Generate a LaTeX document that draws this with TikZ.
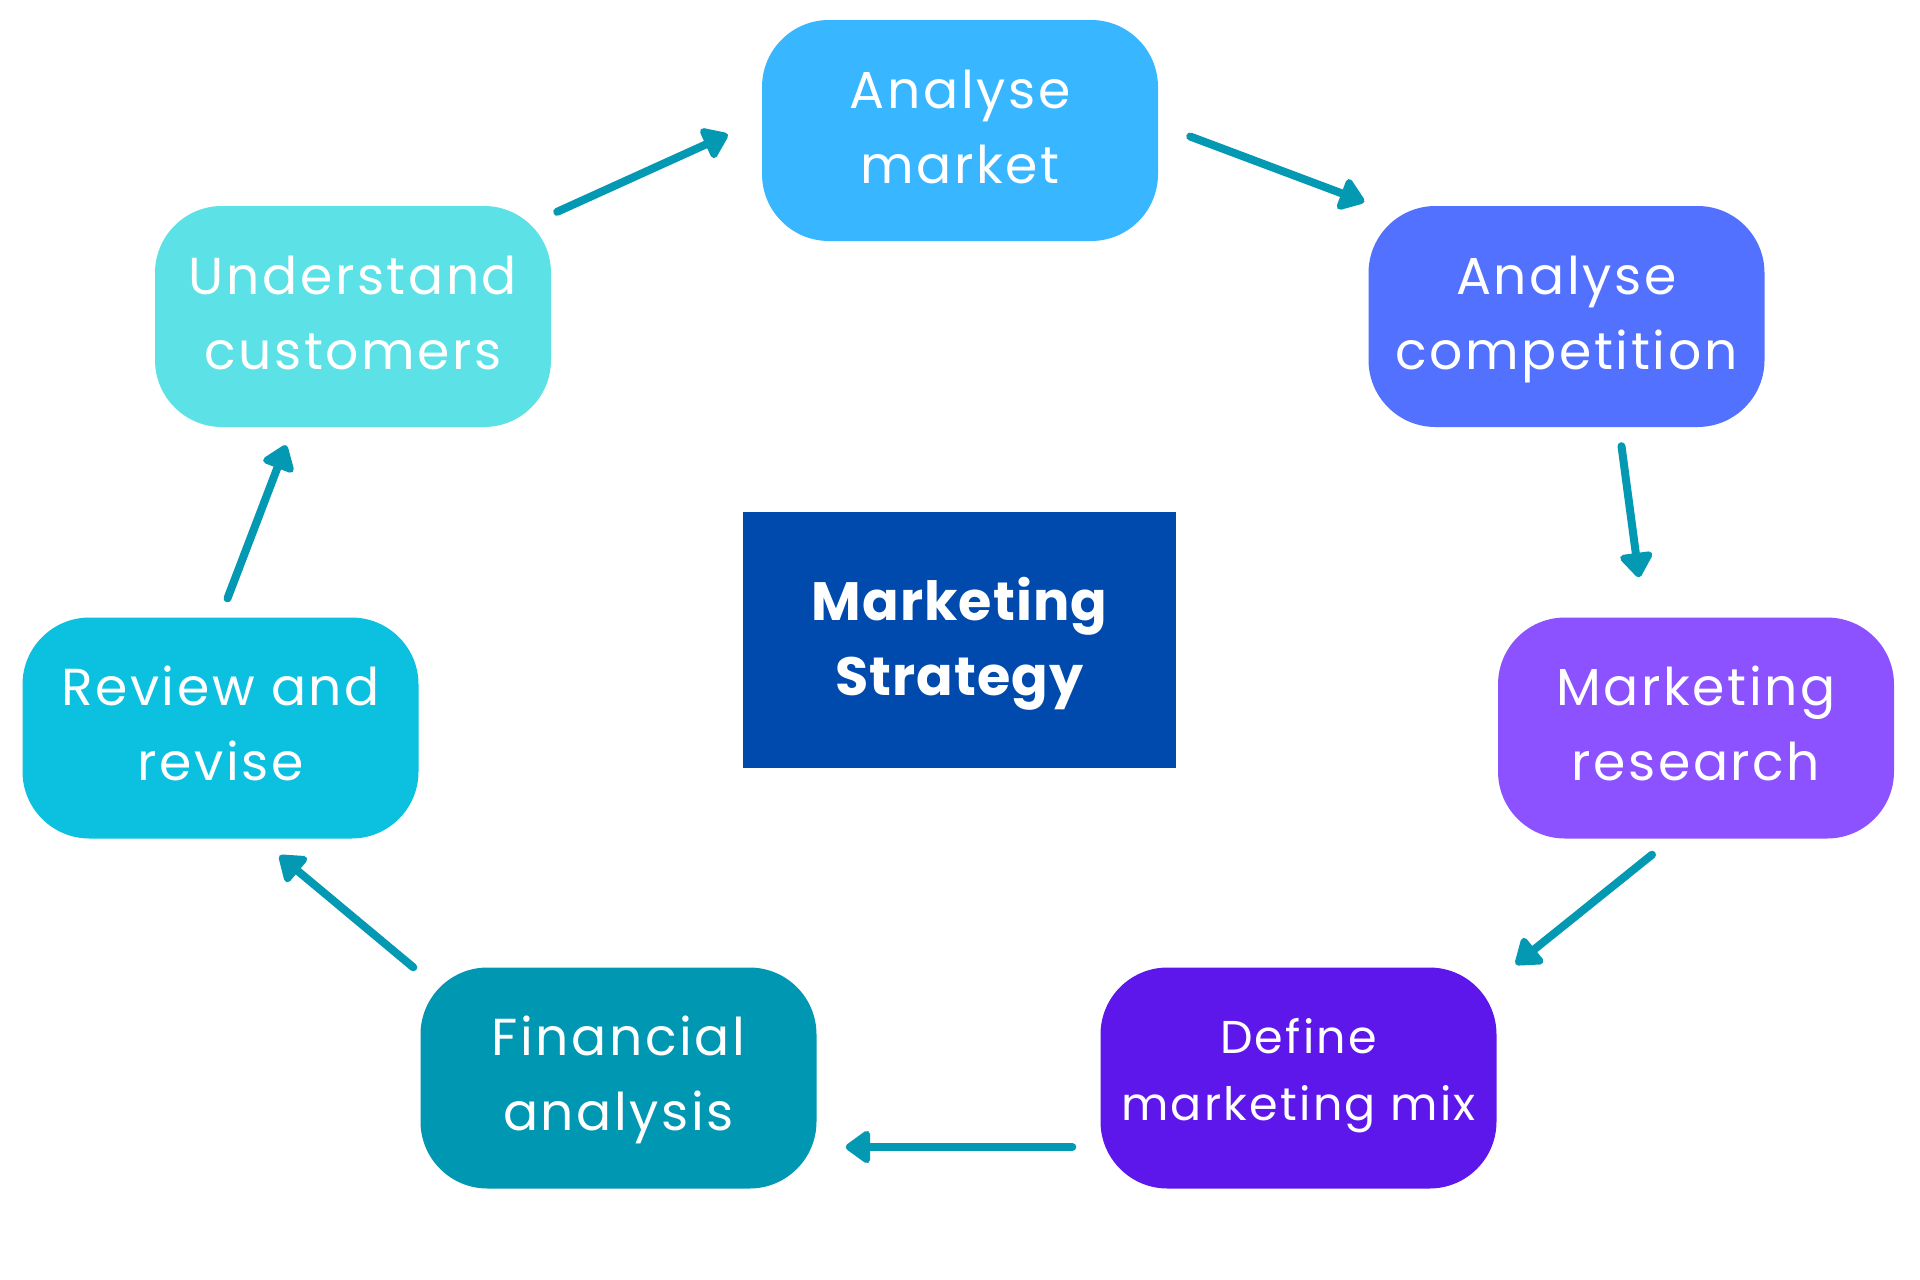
\documentclass[tikz,border=0pt]{standalone}
\usepackage{fontspec}
\setmainfont{Poppins}
\usetikzlibrary{arrows.meta}
\definecolor{cAM}{HTML}{38B6FF}
\definecolor{cAC}{HTML}{5271FF}
\definecolor{cMR}{HTML}{8C52FF}
\definecolor{cDM}{HTML}{5E17EB}
\definecolor{cFA}{HTML}{0097B2}
\definecolor{cRR}{HTML}{0CC0DF}
\definecolor{cUC}{HTML}{5CE1E6}
\definecolor{cCT}{HTML}{004AAD}
\definecolor{arrowc}{HTML}{0399B3}
\newcommand\mkup[1]{\rule{0pt}{#1pt}}
\newcommand\mkdown[1]{\rule[-#1pt]{0pt}{#1pt}}
\newcommand\twolines[2]{\mkup{50}#1\\#2\mkdown{20}}
\begin{document}
\begin{tikzpicture}[x=1pt,y=-1pt,
  stepbox/.style={rounded corners=67pt, minimum width=396pt, minimum height=221pt,
    inner sep=0pt, text=white, align=center,
    font=\addfontfeatures{LetterSpace=5}\fontsize{52}{75}\selectfont},
  smalltext/.style={font=\addfontfeatures{LetterSpace=5}\fontsize{46}{67}\selectfont},
  centerbox/.style={fill=cCT, minimum width=433pt, minimum height=256pt, inner sep=0pt,
    text=white, align=center,
    font=\bfseries\addfontfeatures{LetterSpace=2}\fontsize{54}{75}\selectfont},
  arr/.style={draw=arrowc, line width=8pt, line cap=round,
    -{Triangle[length=27pt,width=37pt,round]}}]
\useasboundingbox (0,0) rectangle (1920,1280);
\fill[white] (0,0) rectangle (1920,1280);

\node[stepbox, fill=cAM] (am) at (960,130.5) {\twolines{Analyse}{market}};
\node[stepbox, fill=cAC] (ac) at (1566.5,316.5) {\twolines{Analyse}{competition}};
\node[stepbox, fill=cMR] (mr) at (1696,728) {\twolines{Marketing}{research}};
\node[stepbox, smalltext, fill=cDM] (dm) at (1298.5,1078) {\mkup{40}Define\\marketing mix\mkdown{23}};
\node[stepbox, fill=cFA] (fa) at (618.5,1078) {\twolines{Financial}{analysis}};
\node[stepbox, fill=cRR] (rr) at (220.5,728) {\twolines{Review and}{revise}};
\node[stepbox, fill=cUC] (uc) at (353,316.5) {\twolines{Understand}{customers}};
\node[centerbox] (ct) at (959.5,640) {\mkup{55}Marketing\\Strategy\mkdown{20}};

\draw[arr] ([shift={(6,6)}]uc.north east) -- ([shift={(-34,4)}]am.west);
\draw[arr] ([shift={(32,6)}]am.east) -- ([shift={(-4,-4)}]ac.north west);
\draw[arr] ([shift={(55,19)}]ac.south) -- ([shift={(-57,-40)}]mr.north);
\draw[arr] ([shift={(-44,16)}]mr.south) -- ([shift={(19,-3)}]dm.north east);
\draw[arr] ([shift={(-28,69)}]dm.west) -- ([shift={(29,69)}]fa.east);
\draw[arr] ([shift={(-7,0)}]fa.north west) -- ([shift={(59,17)}]rr.south);
\draw[arr] ([shift={(7,-19)}]rr.north) -- ([shift={(-67,18)}]uc.south);
\end{tikzpicture}
\end{document}
